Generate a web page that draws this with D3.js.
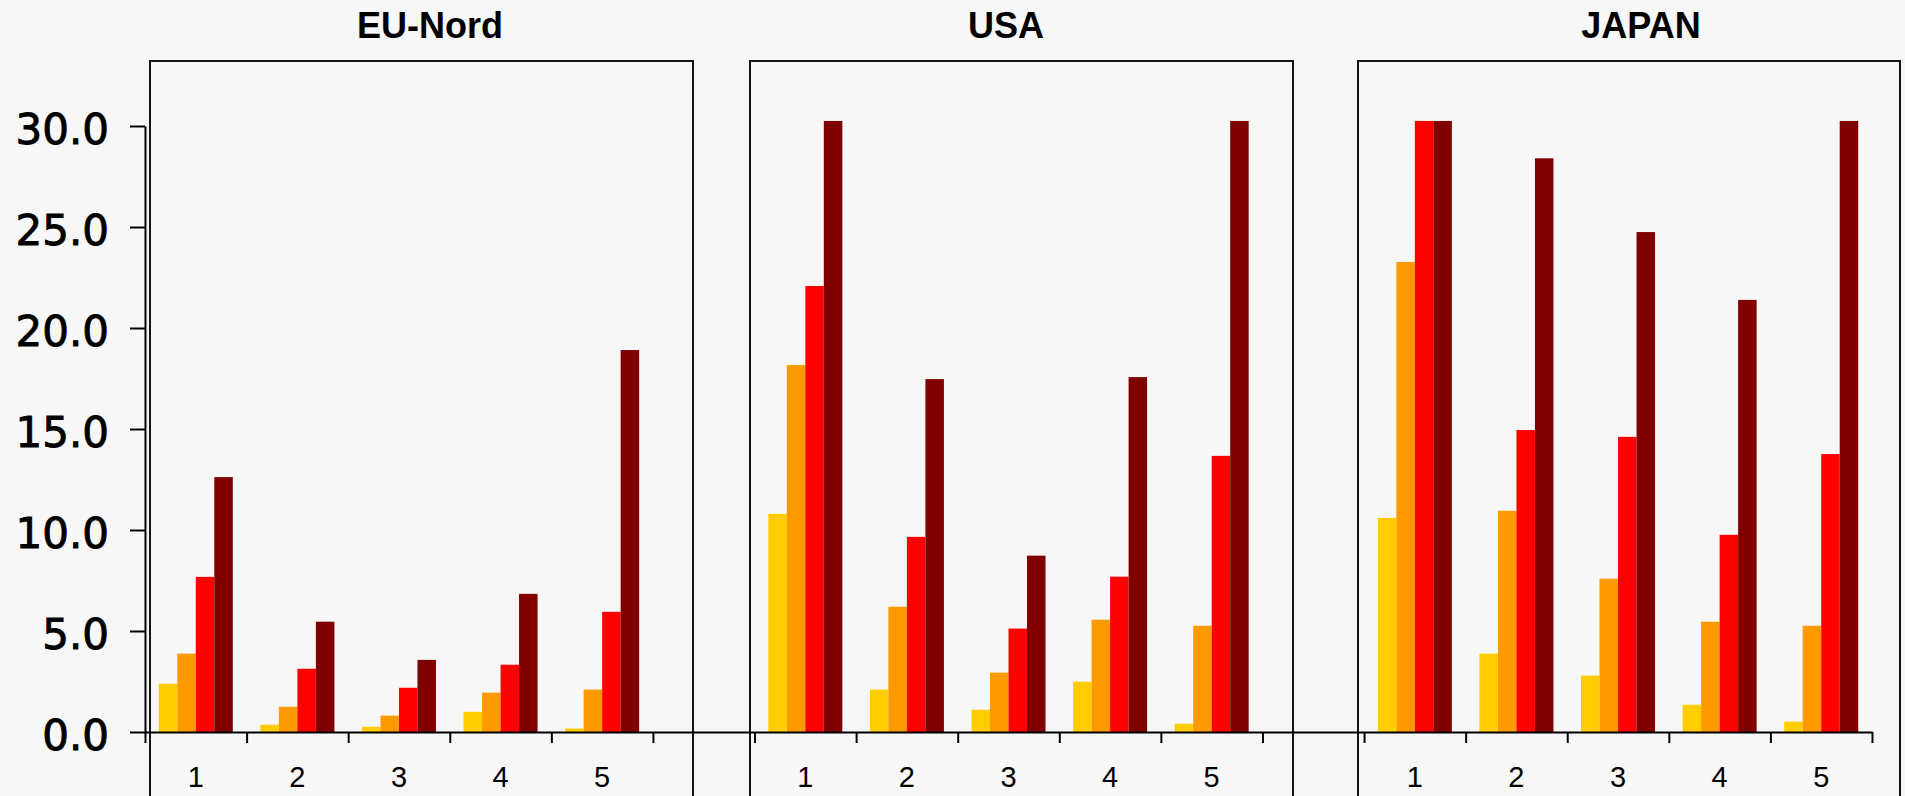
<!DOCTYPE html>
<html>
<head>
<meta charset="utf-8">
<script src="https://cdn.jsdelivr.net/npm/d3@7/dist/d3.min.js"></script>
<style>
  html, body { margin: 0; padding: 0; background: #f7f7f7; overflow: hidden; }
  svg { display: block; }
</style>
</head>
<body>
<div id="chart"></div>
<script>
// panels and categories
var regions = ["EU-Nord", "USA", "JAPAN"]
var categories = ["1", "2", "3", "4", "5"]
var seriesNames = ["s1", "s2", "s3", "s4"]
var seriesColors = ["#ffcc00", "#ff9900", "#ff0000", "#800000"]
var yTicks = [0, 5, 10, 15, 20, 25, 30]

// values per category, one row per category: [s1, s2, s3, s4]
var euNord = [
  [2.39, 3.88, 7.68, 12.62],
  [0.36, 1.25, 3.13, 5.46],
  [0.26, 0.81, 2.19, 3.57],
  [1.00, 1.95, 3.33, 6.84],
  [0.17, 2.10, 5.95, 18.91]
]
var usa = [
  [10.80, 18.17, 22.08, 30.25],
  [2.10, 6.20, 9.66, 17.47],
  [1.10, 2.94, 5.12, 8.73],
  [2.49, 5.56, 7.69, 17.57],
  [0.41, 5.26, 13.67, 30.25]
]
var japan = [
  [10.60, 23.27, 30.25, 30.25],
  [3.88, 10.95, 14.95, 28.40],
  [2.79, 7.59, 14.61, 24.75],
  [1.35, 5.46, 9.76, 21.39],
  [0.51, 5.26, 13.76, 30.25]
]
var panelData = [euNord, usa, japan]

var width = 1905, height = 796
var svg = d3.select("#chart").append("svg")
    .attr("width", width)
    .attr("height", height)
    .style("background", "#f7f7f7")

// one long slot axis: 5 slots per panel, 1 empty slot between panels
var slotsPerPanel = categories.length + 1
var nSlots = regions.length * slotsPerPanel - 1
var xSlot = d3.scaleLinear().domain([0, nSlots]).range([145, 1872])
var y = d3.scaleLinear().domain([0, 30]).range([732, 126])

var inner = d3.scaleBand()
    .domain(seriesNames)
    .range([0, xSlot(1) - xSlot(0)])
    .paddingInner(0)
    .paddingOuter(0.745)

// panel frames (extend below the picture edge)
var frameX = [[150, 693], [750, 1293], [1358, 1900]]
var titleX = [430, 1006, 1641]

svg.selectAll(".frame")
    .data(frameX)
    .enter()
    .append("rect")
    .attr("class", "frame")
    .attr("x", function(d) { return d[0] })
    .attr("y", 61)
    .attr("width", function(d) { return d[1] - d[0] })
    .attr("height", 800)
    .style("fill", "none")
    .style("stroke", "#151515")
    .style("stroke-width", 2)

svg.selectAll(".title")
    .data(regions)
    .enter()
    .append("text")
    .attr("class", "title")
    .attr("x", function(d, i) { return titleX[i] })
    .attr("y", 38)
    .attr("text-anchor", "middle")
    .style("font-family", "'Liberation Sans', Arial, sans-serif")
    .style("font-weight", "bold")
    .style("font-size", "36px")
    .style("fill", "#000")
    .text(function(d) { return d })

// bars
regions.forEach(function(region, p) {
  var g = svg.append("g").attr("class", "panel")
  var rows = panelData[p]
  var groups = g.selectAll(".cat")
      .data(rows)
      .enter()
      .append("g")
      .attr("class", "cat")
      .attr("transform", function(d, i) { return "translate(" + xSlot(p * slotsPerPanel + i) + ",0)" })

  groups.selectAll("rect")
      .data(function(d) { return d })
      .enter()
      .append("rect")
      .attr("x", function(d, j) { return inner(seriesNames[j]) })
      .attr("y", function(d) { return y(d) })
      .attr("width", inner.bandwidth())
      .attr("height", function(d) { return y(0) - y(d) })
      .style("fill", function(d, j) { return seriesColors[j] })
})

// y axis
var yAxis = d3.axisLeft(y)
    .tickValues(yTicks)
    .tickFormat(d3.format(".1f"))
    .tickSize(15)
    .tickSizeOuter(0)
    .tickPadding(21)

var yg = svg.append("g")
    .attr("transform", "translate(" + xSlot(0) + ",0)")
    .call(yAxis)
yg.selectAll("path, line").style("stroke", "#000").style("stroke-width", 2)
yg.selectAll("text")
    .style("font-family", "'DejaVu Sans', Verdana, sans-serif")
    .style("font-size", "42px")
    .style("fill", "#000")
    .style("stroke", "#000")
    .style("stroke-width", 0.9)
    .attr("dy", "0.42em")

// x axis: one long baseline, ticks at category boundaries
var tickSlots = []
regions.forEach(function(r, p) {
  for (var i = 0; i <= categories.length; i++) tickSlots.push(p * slotsPerPanel + i)
})

var xAxis = d3.axisBottom(xSlot)
    .tickValues(tickSlots)
    .tickFormat("")
    .tickSize(11)
    .tickSizeOuter(0)

var xg = svg.append("g")
    .attr("transform", "translate(0," + y(0) + ")")
    .call(xAxis)
xg.selectAll("path, line").style("stroke", "#000").style("stroke-width", 2)

// category labels
var labelData = []
regions.forEach(function(r, p) {
  categories.forEach(function(c, i) { labelData.push({ slot: p * slotsPerPanel + i, label: c }) })
})

svg.selectAll(".xlabel")
    .data(labelData)
    .enter()
    .append("text")
    .attr("class", "xlabel")
    .attr("x", function(d) { return xSlot(d.slot + 0.5) })
    .attr("y", 787)
    .attr("text-anchor", "middle")
    .style("font-family", "'Liberation Sans', Arial, sans-serif")
    .style("font-size", "29px")
    .style("fill", "#000")
    .text(function(d) { return d.label })
</script>
</body>
</html>
